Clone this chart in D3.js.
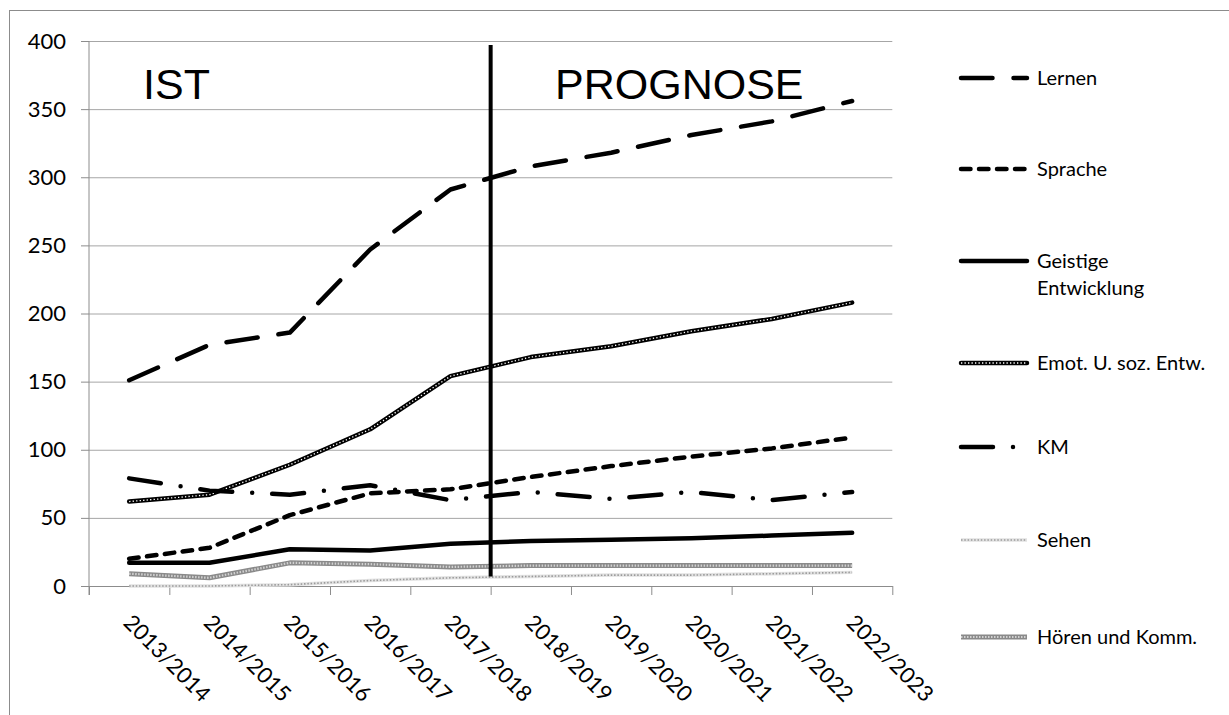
<!DOCTYPE html>
<html>
<head>
<meta charset="utf-8">
<script src="https://cdn.jsdelivr.net/npm/d3@7/dist/d3.min.js"></script>
<style>
  html, body { margin: 0; padding: 0; background: #fff; }
  svg { display: block; }
</style>
</head>
<body>
<svg id="chart" width="1229" height="715"></svg>
<script>
// ---- DATA ----
const categories = ["2013/2014","2014/2015","2015/2016","2016/2017","2017/2018",
                    "2018/2019","2019/2020","2020/2021","2021/2022","2022/2023"];
const seriesNames = ["Lernen","Sprache","Geistige Entwicklung","Emot. U. soz. Entw.","KM","Sehen","Hören und Komm."];
const lernen   = [151, 177, 186, 247, 291, 308, 318, 331, 341, 356];
const sprache  = [20, 28, 52, 68, 71, 80, 88, 95, 101, 109];
const geistige = [17, 17, 27, 26, 31, 33, 34, 35, 37, 39];
const emot     = [62, 67, 89, 115, 154, 168, 176, 187, 196, 208];
const km       = [79, 70, 67, 74, 63, 69, 64, 69, 63, 69];
const sehen    = [0, 0, 1, 4, 6, 7, 8, 8, 9, 10];
const hoeren   = [9, 6, 17, 16, 14, 15, 15, 15, 15, 15];
const yTicks   = [0, 50, 100, 150, 200, 250, 300, 350, 400];
const periodLabels = ["IST", "PROGNOSE"];
const dividerAfter = "2017/2018";      // vertical separator sits after this category
const dividerRange = [7, 397];         // vertical extent of separator, in value units

(function () {
// ---- LAYOUT ----
const svg = d3.select("#chart");
const pL = 89, pR = 892.3, pT = 41, pB = 586;
const font = "Lato, 'Open Sans', sans-serif";

const x = d3.scaleBand().domain(categories).range([pL, pR]).padding(0);
const xEdge = d3.scaleLinear().domain([0, categories.length]).range([pL, pR]);
const y = d3.scaleLinear().domain([0, 400]).range([pB, pT]);
const cx = d => x(d) + x.bandwidth() / 2;

// outer frame
svg.append("rect").attr("x", 9.5).attr("y", 10.5).attr("width", 1240).attr("height", 720)
  .attr("fill", "none").attr("stroke", "#8c8c8c").attr("stroke-width", 1);

// gridlines
const grid = svg.append("g").attr("transform", `translate(${pL},0)`)
  .call(d3.axisLeft(y).tickValues(yTicks).tickSize(-(pR - pL)).tickFormat(""));
grid.select(".domain").remove();
grid.selectAll("line").attr("stroke", "#a6a6a6").attr("stroke-width", 1);

// y axis
const yAxis = svg.append("g").attr("transform", `translate(${pL},0)`)
  .call(d3.axisLeft(y).tickValues(yTicks).tickSize(8).tickPadding(15).tickSizeOuter(0));
yAxis.select(".domain").remove();
yAxis.selectAll("line").attr("stroke", "#8c8c8c");
yAxis.selectAll("text").attr("font-family", font).attr("font-size", 22).attr("fill", "#000");
svg.append("line").attr("x1", pL).attr("x2", pL).attr("y1", pT).attr("y2", pB + 9)
  .attr("stroke", "#8c8c8c").attr("stroke-width", 1);

// x axis (ticks between categories)
const xAxis = svg.append("g").attr("transform", `translate(0,${pB})`)
  .call(d3.axisBottom(xEdge).tickValues(d3.range(categories.length + 1)).tickSize(9).tickFormat("").tickSizeOuter(0));
xAxis.select(".domain").attr("stroke", "#8c8c8c");
xAxis.selectAll("line").attr("stroke", "#8c8c8c");

// x labels rotated
svg.append("g").selectAll("text").data(categories).join("text")
  .attr("transform", d => `translate(${cx(d) - 7},${pB + 38}) rotate(45)`)
  .attr("font-family", font).attr("font-size", 22).attr("fill", "#000")
  .text(d => d);

// ---- SERIES ----
const seriesData = [lernen, sprache, geistige, emot, km, sehen, hoeren];
const styles = [
  [{stroke: "#000", w: 4.5, dash: "31.5,21"}],
  [{stroke: "#000", w: 4.5, dash: "9.5,8.5"}],
  [{stroke: "#000", w: 4.5, dash: null}],
  [{stroke: "#000", w: 4.5, dash: null}, {stroke: "#fff", w: 1.3, dash: "1.3,2.2", cap: "butt"}],
  [{stroke: "#000", w: 4.5, dash: "32,20,0,20"}],
  [{stroke: "#e2e2e2", w: 3.5, dash: null, cap: "butt"}, {stroke: "#9a9a9a", w: 1.6, dash: "1.5,1.8", cap: "butt"}],
  [{stroke: "#8a8a8a", w: 5, dash: null, cap: "butt"}, {stroke: "#d2d2d2", w: 2.2, dash: "1.5,1.5", cap: "butt"}]
];

const line = d3.line().x((v, i) => cx(categories[i])).y(v => y(v));
const gSeries = svg.append("g");
seriesData.forEach((vals, si) => {
  styles[si].forEach(st => {
    gSeries.append("path").datum(vals).attr("d", line)
      .attr("fill", "none").attr("stroke", st.stroke).attr("stroke-width", st.w)
      .attr("stroke-linecap", st.cap || "round").attr("stroke-linejoin", "round")
      .attr("stroke-dasharray", st.dash);
  });
});

// divider line
const divX = x(dividerAfter) + x.bandwidth();
svg.append("line").attr("x1", divX).attr("x2", divX)
  .attr("y1", y(dividerRange[1])).attr("y2", y(dividerRange[0]))
  .attr("stroke", "#000").attr("stroke-width", 4);

// period labels
svg.append("text").attr("x", 143).attr("y", 99).text(periodLabels[0])
  .attr("font-family", "'Liberation Sans', Arial, sans-serif").attr("font-size", 43).attr("fill", "#000");
svg.append("text").attr("x", 555).attr("y", 99).text(periodLabels[1])
  .attr("font-family", "'Liberation Sans', Arial, sans-serif").attr("font-size", 43).attr("fill", "#000");

// ---- LEGEND ----
const legendY = [78, 169, 261, 363, 447, 540, 637];
const lg = svg.append("g");
seriesNames.forEach((name, i) => {
  const yy = legendY[i];
  styles[i].forEach(st => {
    lg.append("line").attr("x1", 961).attr("x2", 1027).attr("y1", yy).attr("y2", yy)
      .attr("stroke", st.stroke).attr("stroke-width", st.w)
      .attr("stroke-linecap", st.cap || "round").attr("stroke-dasharray", st.dash);
  });
  const t = lg.append("text").attr("x", 1037).attr("y", yy).attr("dy", "0.35em")
    .attr("font-family", font).attr("font-size", 20).attr("fill", "#000");
  if (name === "Geistige Entwicklung") {
    t.append("tspan").attr("x", 1037).text("Geistige");
    t.append("tspan").attr("x", 1037).attr("dy", 27).text("Entwicklung");
  } else {
    t.text(name);
  }
});
})();
</script>
</body>
</html>
